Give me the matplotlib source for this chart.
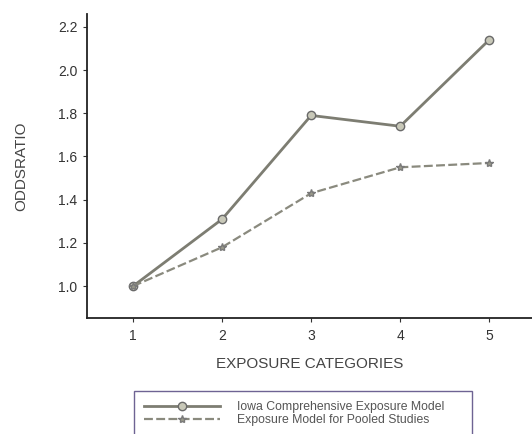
import matplotlib
matplotlib.use("Agg")
import matplotlib.pyplot as plt

categories = [1, 2, 3, 4, 5]
iowa = [1.00, 1.31, 1.79, 1.74, 2.14]
pooled = [1.00, 1.18, 1.43, 1.55, 1.57]
yticks = [1.0, 1.2, 1.4, 1.6, 1.8, 2.0, 2.2]

plt.rcParams['font.family'] = ['Liberation Sans', 'DejaVu Sans']

fig = plt.figure(figsize=(5.32, 4.34), dpi=100)
ax = fig.add_axes([0.1635, 0.267, 0.8365, 0.701])

line_col = '#7d7d72'
ax.plot(categories, iowa, color=line_col, lw=2.0, marker='o', ms=6,
        mfc='#c8c8b8', mec='#6a6a6a', mew=1.0,
        label='Iowa Comprehensive Exposure Model')
ax.plot(categories, pooled, color='#8a8a7e', lw=1.6, ls=(0, (4, 1.5)),
        marker='*', ms=6, mfc='#9a9a8a', mec='#7a7a7a',
        label='Exposure Model for Pooled Studies')

ax.set_xlim(0.483, 5.48)
ax.set_ylim(0.852, 2.26)
ax.set_xticks(categories)
ax.set_yticks(yticks)
ax.set_yticklabels([f'{v:.1f}' for v in yticks])
for s in ['top', 'right']:
    ax.spines[s].set_visible(False)
for s in ['left', 'bottom']:
    ax.spines[s].set_color('#222222')
    ax.spines[s].set_linewidth(1.3)
ax.tick_params(axis='both', direction='out', length=3, width=0.8,
               labelsize=10, colors='#333333', pad=5)
ax.tick_params(axis='y', pad=4)
ax.set_xlabel('EXPOSURE CATEGORIES', fontsize=11, color='#444444', labelpad=10)
ax.set_ylabel('ODDSRATIO', fontsize=11, color='#444444', labelpad=21)

leg = fig.legend(loc='upper left', bbox_to_anchor=(0.252, -0.2, 0.635, 0.299),
                 mode='expand', fontsize=8.8, handlelength=6.2, frameon=True,
                 fancybox=False, borderaxespad=0, labelspacing=0.1,
                 handletextpad=1.4, borderpad=0.8)
leg.get_frame().set_edgecolor('#4a3c78')
leg.get_frame().set_linewidth(1.0)
for t in leg.get_texts():
    t.set_color('#555555')

fig.savefig('out.png', dpi=100)
